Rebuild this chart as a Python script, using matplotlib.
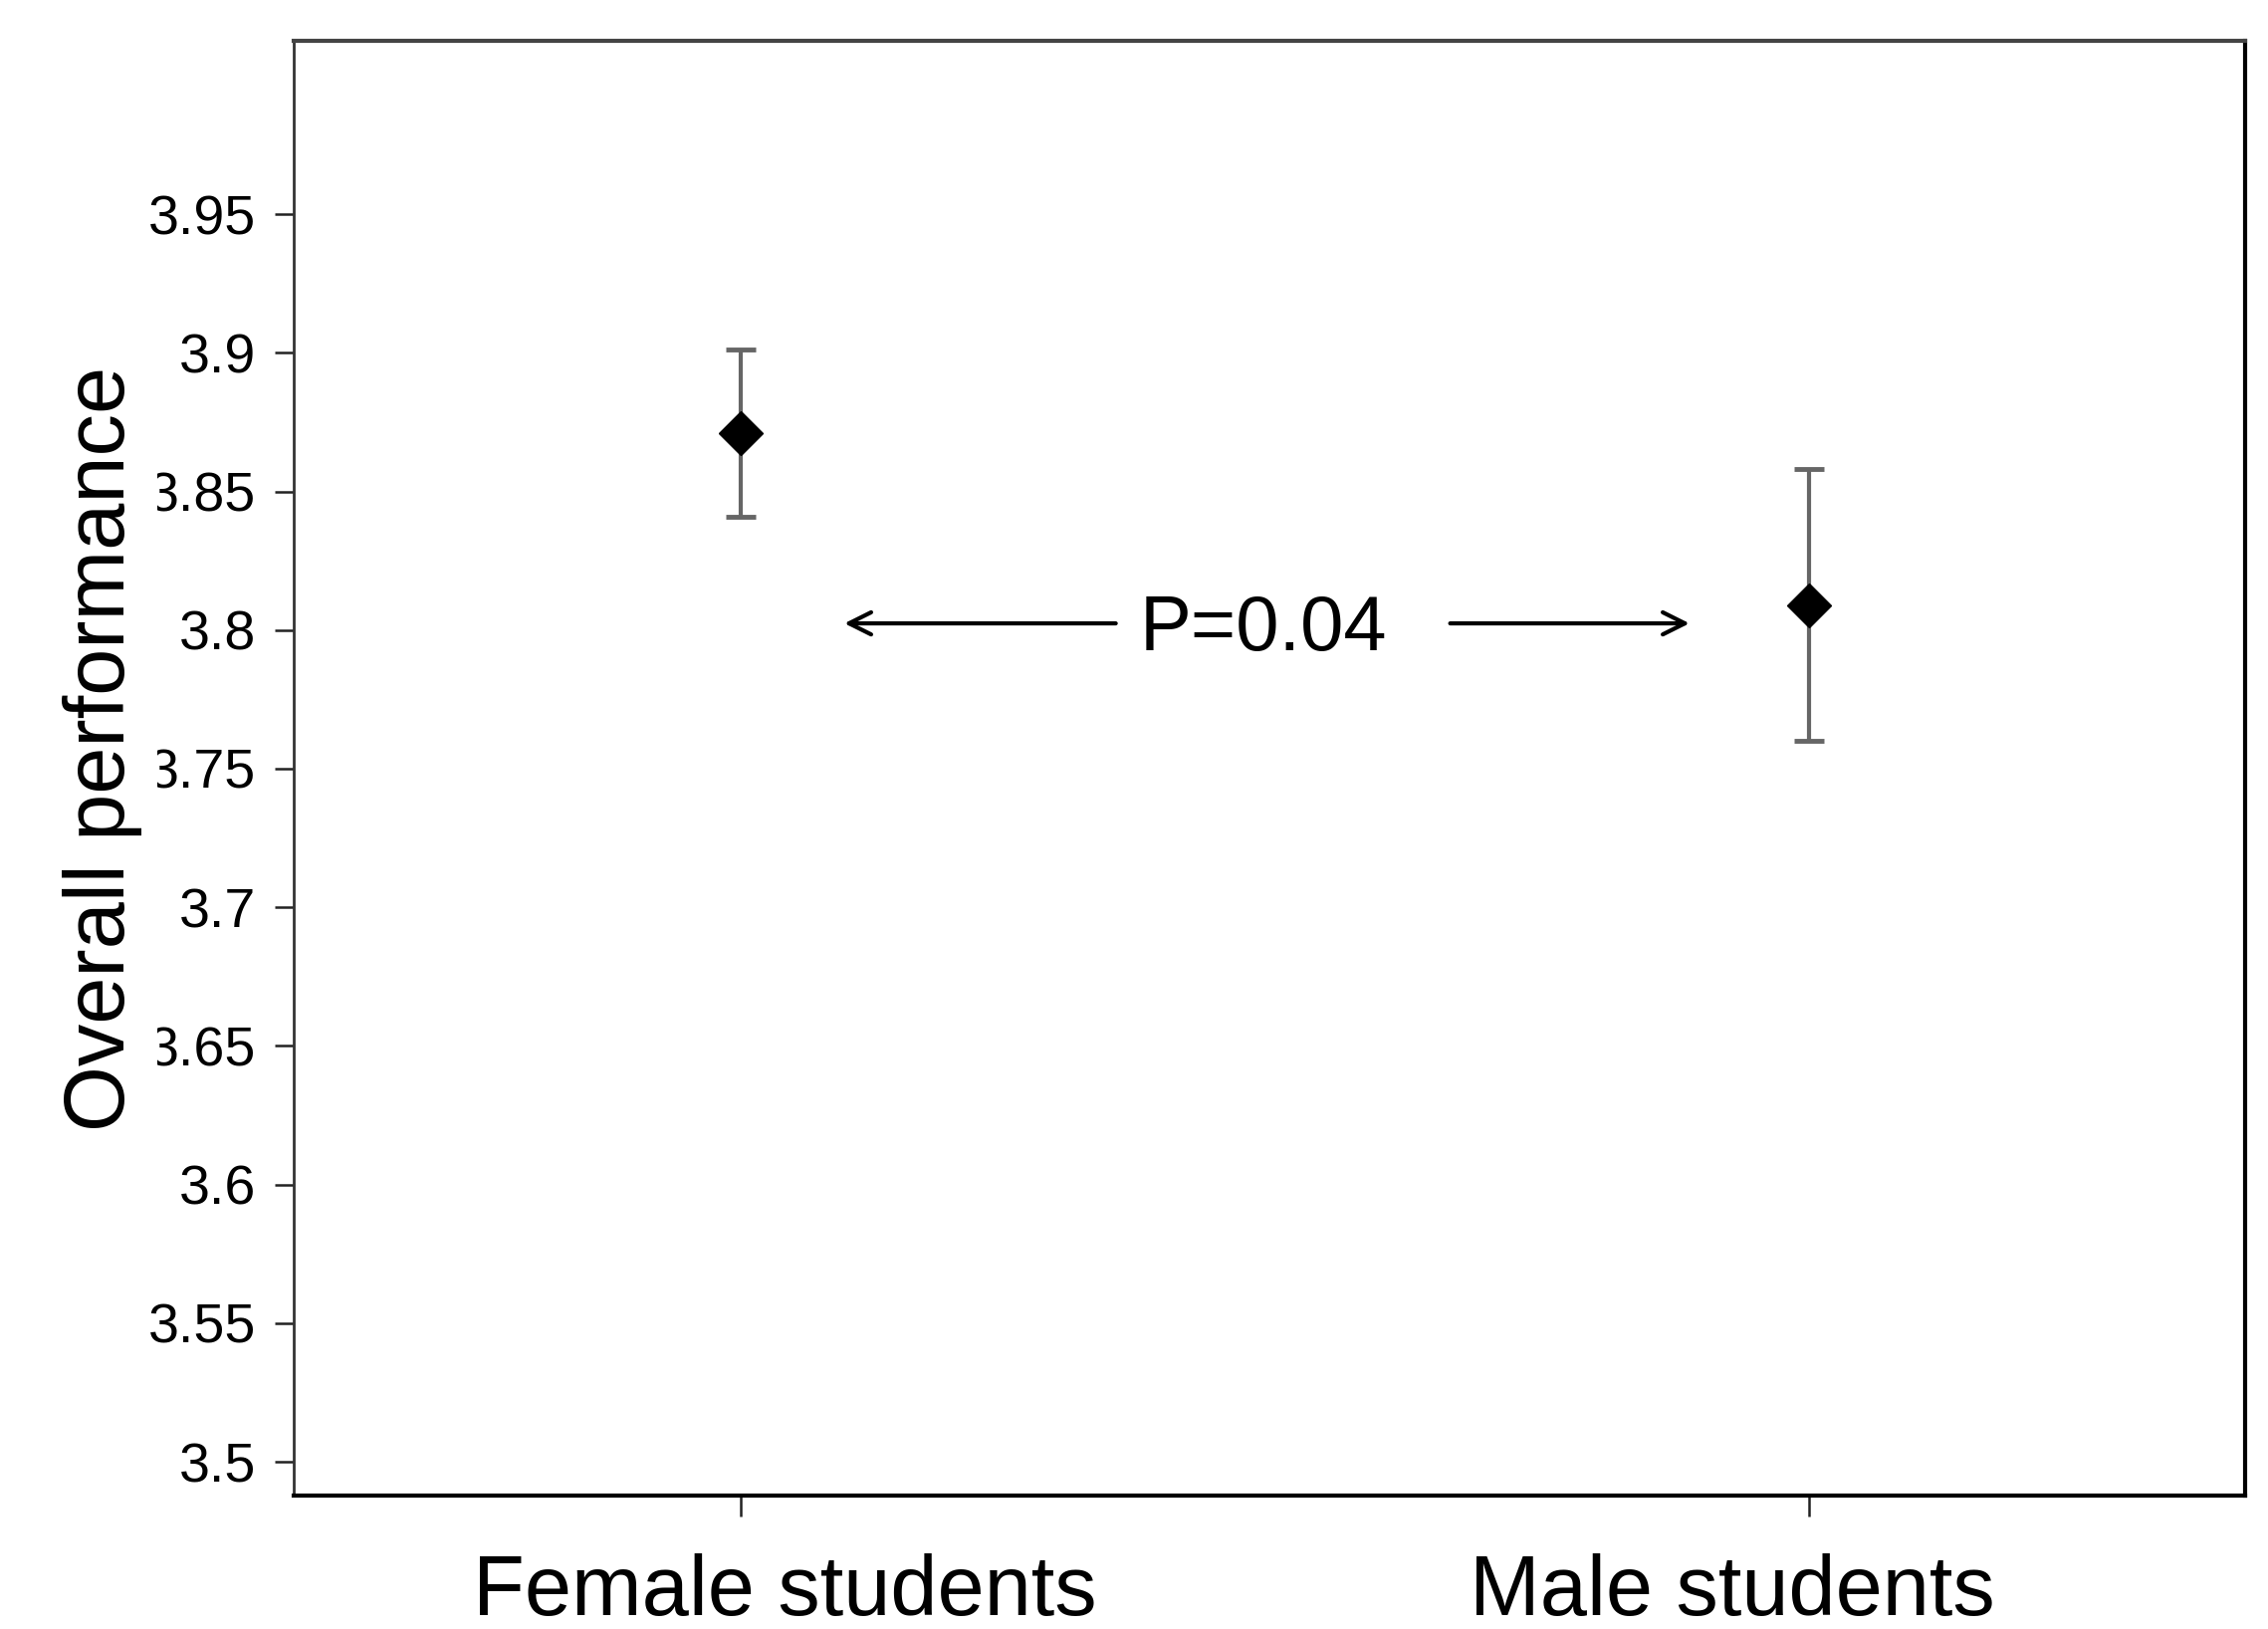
import matplotlib
matplotlib.use('Agg')
import matplotlib.pyplot as plt
from matplotlib.transforms import ScaledTranslation

# values
groups = ['Female students', 'Male students']
group_x = [1, 2]
means = [3.871, 3.809]
errors = [0.0303, 0.049]
yticks = [3.5, 3.55, 3.6, 3.65, 3.7, 3.75, 3.8, 3.85, 3.9, 3.95]
ytick_labels = ['3.5', '3.55', '3.6', '3.65', '3.7', '3.75', '3.8', '3.85', '3.9', '3.95']
p_text = 'P=0.04'

plt.rcParams['font.family'] = ['Liberation Sans', 'DejaVu Sans']

fig = plt.figure(figsize=(22.78, 16.36), dpi=100)
ax = fig.add_axes([0.1295, 0.0819, 0.9899 - 0.1295, 0.9749 - 0.0819])

ax.errorbar(group_x, means, yerr=errors, fmt='none', ecolor='#666666',
            elinewidth=3, capsize=11, capthick=3.5, zorder=2)
ax.plot(group_x, means, linestyle='none', marker='D', markersize=22,
        color='black', markeredgewidth=1, zorder=3)

# P-value annotation with two arrows
arrow_y = 3.8024
ax.annotate('', xy=(1.097, arrow_y), xytext=(1.351, arrow_y),
            arrowprops=dict(arrowstyle='->', lw=3, color='black',
                            mutation_scale=40, shrinkA=0, shrinkB=0))
ax.annotate('', xy=(1.888, arrow_y), xytext=(1.664, arrow_y),
            arrowprops=dict(arrowstyle='->', lw=3, color='black',
                            mutation_scale=40, shrinkA=0, shrinkB=0))
ax.text(1.489, 3.7927, p_text, fontsize=56, ha='center', va='baseline')

ax.set_xlim(0.5816, 2.408)
ax.set_ylim(3.4878, 4.0125)

ax.set_yticks(yticks)
ax.set_yticklabels(ytick_labels, fontsize=40)
ax.set_xticks(group_x)
ax.set_xticklabels(groups, fontsize=61)

ax.tick_params(axis='y', length=13.7, width=1.8, pad=13.7, color='#222222')
ax.tick_params(axis='x', length=15, width=1.8, pad=26.6, color='#222222')

# labels are not centred on their ticks in the original
for lab, dx in zip(ax.get_xticklabels(), [0.44, -0.77]):
    lab.set_transform(lab.get_transform() + ScaledTranslation(dx, 0, fig.dpi_scale_trans))

# white box behind the y label hides the first digit of some tick labels, as in the original
ax.set_ylabel('Overall performance', fontsize=61, va='center',
              bbox=dict(facecolor='white', edgecolor='none', pad=11))
ax.yaxis.set_label_coords(-0.098, 0.5133)

ax.spines['left'].set_linewidth(2)
ax.spines['left'].set_color('#333333')
ax.spines['bottom'].set_linewidth(3)
ax.spines['right'].set_linewidth(3)
ax.spines['top'].set_linewidth(3)
ax.spines['top'].set_color('#444444')

fig.savefig('out.png', dpi=100)
